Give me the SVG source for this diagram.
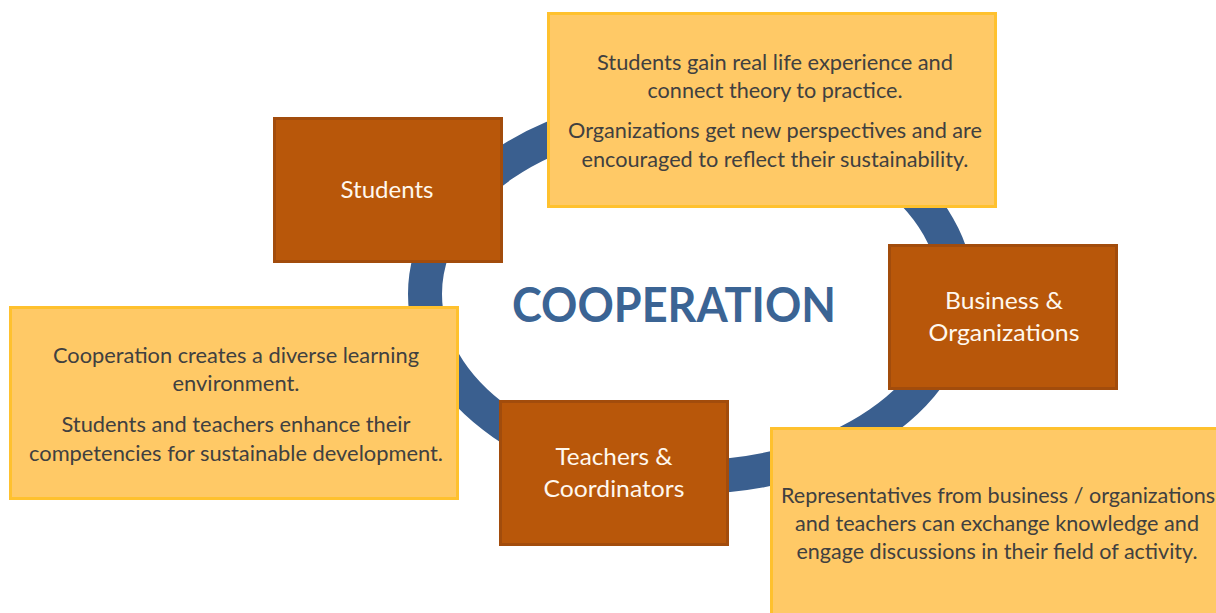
<svg xmlns="http://www.w3.org/2000/svg" width="1216" height="613" viewBox="0 0 1216 613">
<style>
.actor{fill:#B8570A;stroke:#A24C0C;stroke-width:3}
.note{fill:#FFC966;stroke:#FFC12E;stroke-width:3}
.lbl{font-family:Lato,"Open Sans","Liberation Sans",sans-serif;font-size:24px;fill:#FFF8EE;text-anchor:middle}
.body{font-family:Lato,"Open Sans","Liberation Sans",sans-serif;font-size:21px;fill:#404040;text-anchor:middle}
.title{font-family:Lato,"Open Sans","Liberation Sans",sans-serif;font-size:47px;font-weight:bold;fill:#3B6494;text-anchor:middle}
</style>
<rect width="1216" height="613" fill="#FFFFFF"/>
<g id="connectors">
<ellipse cx="691" cy="294" rx="266" ry="183" fill="none" stroke="#3A5F8F" stroke-width="34"/>
</g>
<g id="title">
<text class="title" x="674" y="322" textLength="324" lengthAdjust="spacingAndGlyphs">COOPERATION</text>
</g>
<g id="students">
<rect class="actor" x="274.5" y="118.5" width="227" height="143"/>
<text class="lbl" x="387" y="198" textLength="93" lengthAdjust="spacingAndGlyphs">Students</text>
</g>
<g id="note-top">
<rect class="note" x="548.5" y="13.5" width="447" height="193"/>
<text class="body" x="775" y="70" textLength="356" lengthAdjust="spacingAndGlyphs">Students gain real life experience and</text>
<text class="body" x="775" y="98" textLength="255" lengthAdjust="spacingAndGlyphs">connect theory to practice.</text>
<text class="body" x="775" y="138" textLength="414" lengthAdjust="spacingAndGlyphs">Organizations get new perspectives and are</text>
<text class="body" x="775" y="167" textLength="387" lengthAdjust="spacingAndGlyphs">encouraged to reflect their sustainability.</text>
</g>
<g id="business">
<rect class="actor" x="889.5" y="245.5" width="227" height="143"/>
<text class="lbl" x="1004" y="309" textLength="118" lengthAdjust="spacingAndGlyphs">Business &amp;</text>
<text class="lbl" x="1004" y="341" textLength="151" lengthAdjust="spacingAndGlyphs">Organizations</text>
</g>
<g id="note-left">
<rect class="note" x="10.5" y="307.5" width="447" height="191"/>
<text class="body" x="236" y="363" textLength="366" lengthAdjust="spacingAndGlyphs">Cooperation creates a diverse learning</text>
<text class="body" x="236" y="391" textLength="127" lengthAdjust="spacingAndGlyphs">environment.</text>
<text class="body" x="236" y="432" textLength="349" lengthAdjust="spacingAndGlyphs">Students and teachers enhance their</text>
<text class="body" x="236" y="461" textLength="414" lengthAdjust="spacingAndGlyphs">competencies for sustainable development.</text>
</g>
<g id="teachers">
<rect class="actor" x="500.5" y="401.5" width="227" height="143"/>
<text class="lbl" x="614" y="465" textLength="117" lengthAdjust="spacingAndGlyphs">Teachers &amp;</text>
<text class="lbl" x="614" y="497" textLength="141" lengthAdjust="spacingAndGlyphs">Coordinators</text>
</g>
<g id="note-bottom">
<rect class="note" x="771.5" y="428.5" width="460" height="200"/>
<text class="body" x="998" y="503" textLength="434" lengthAdjust="spacingAndGlyphs">Representatives from business / organizations</text>
<text class="body" x="997" y="531" textLength="404" lengthAdjust="spacingAndGlyphs">and teachers can exchange knowledge and</text>
<text class="body" x="997" y="559" textLength="401" lengthAdjust="spacingAndGlyphs">engage discussions in their field of activity.</text>
</g>
</svg>
